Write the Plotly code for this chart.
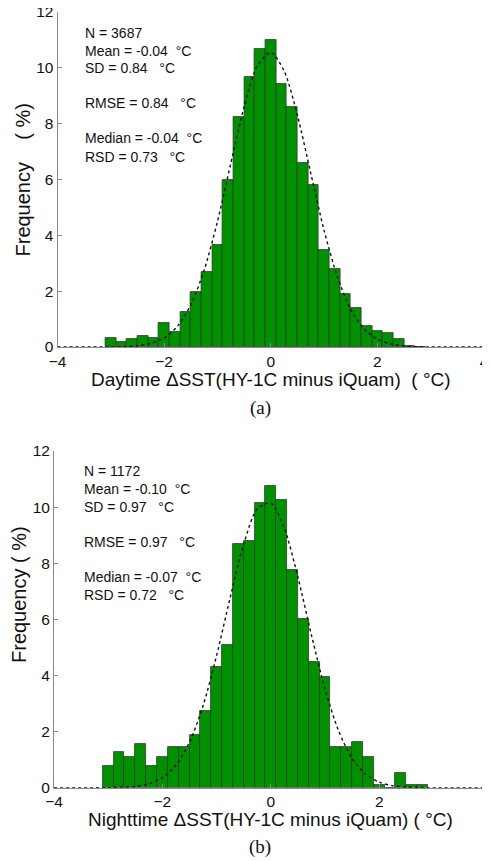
import plotly.graph_objects as go

# ---------------- data ----------------
bin_centers = [-3.0, -2.8, -2.6, -2.4, -2.2, -2.0, -1.8, -1.6, -1.4, -1.2,
               -1.0, -0.8, -0.6, -0.4, -0.2, 0.0, 0.2, 0.4, 0.6, 0.8,
               1.0, 1.2, 1.4, 1.6, 1.8, 2.0, 2.2, 2.4, 2.6, 2.8]

day_freq = [0.33, 0.18, 0.30, 0.38, 0.31, 0.86, 0.55, 1.25, 1.96, 2.68,
            3.66, 6.00, 8.23, 9.67, 10.69, 10.98, 9.42, 8.60, 6.58, 5.80,
            3.47, 2.80, 1.90, 1.41, 0.75, 0.58, 0.49, 0.30, 0.04, 0.0]

night_freq = [0.77, 1.29, 1.11, 1.56, 0.77, 1.11, 1.45, 1.45, 1.88, 2.75,
              4.30, 5.07, 8.69, 8.78, 10.13, 10.75, 10.25, 7.75, 6.03, 4.48,
              3.95, 1.46, 1.46, 1.63, 1.11, 0.085, 0.0, 0.51, 0.085, 0.085]

curve_x = [-4.0, -3.0, -2.75, -2.5, -2.25, -2.0, -1.75, -1.5, -1.25, -1.0,
           -0.75, -0.5, -0.25, 0.0, 0.25, 0.5, 0.75, 1.0, 1.25, 1.5,
           1.75, 2.0, 2.25, 2.5, 2.75, 3.0, 4.0]

day_fit = [0.0, 0.0, 0.01, 0.04, 0.13, 0.32, 0.74, 1.51, 2.75, 4.49,
           6.57, 8.60, 10.07, 10.55, 9.89, 8.30, 6.23, 4.18, 2.52, 1.35,
           0.65, 0.28, 0.11, 0.04, 0.01, 0.0, 0.0]

night_fit = [0.0, 0.0, 0.02, 0.05, 0.14, 0.35, 0.80, 1.62, 2.92, 4.71,
             6.77, 8.68, 9.93, 10.14, 9.24, 7.50, 5.44, 3.52, 2.03, 1.04,
             0.48, 0.20, 0.07, 0.02, 0.01, 0.0, 0.0]

x_ticks = [-4, -2, 0, 2, 4]
y_ticks = [0, 2, 4, 6, 8, 10, 12]

day_stats = ["N = 3687", "Mean = -0.04\u00a0\u00a0°C", "SD = 0.84\u00a0\u00a0\u00a0°C",
             "RMSE = 0.84\u00a0\u00a0\u00a0°C", "Median = -0.04\u00a0\u00a0°C",
             "RSD = 0.73\u00a0\u00a0\u00a0°C"]
night_stats = ["N = 1172", "Mean = -0.10\u00a0\u00a0°C", "SD = 0.97\u00a0\u00a0\u00a0°C",
               "RMSE = 0.97\u00a0\u00a0\u00a0°C", "Median = -0.07\u00a0\u00a0°C",
               "RSD = 0.72\u00a0\u00a0\u00a0°C"]

# ---------------- figure ----------------
W, H = 490, 861
OFF = 8  # page body margin: figure is drawn 8 px right/down in the window
FONT = "Arial, Liberation Sans, sans-serif"
SERIF = "Times New Roman, Liberation Serif, serif"
BAR_COLOR = "#009100"


def py(p):
    return 1 - (p - OFF) / H


def px(p):
    return (p - OFF) / W


fig = go.Figure()

for freq, xa, ya in [(day_freq, "x", "y"), (night_freq, "x2", "y2")]:
    fig.add_trace(go.Bar(x=bin_centers, y=freq, width=0.2, xaxis=xa, yaxis=ya,
                         marker=dict(color=BAR_COLOR, line=dict(color="#2b3b2b", width=0.8)),
                         showlegend=False, hoverinfo="x+y"))

for fit, xa, ya in [(day_fit, "x", "y"), (night_fit, "x2", "y2")]:
    fig.add_trace(go.Scatter(x=curve_x, y=fit, mode="lines", xaxis=xa, yaxis=ya,
                             line=dict(color="#111111", width=1.4, dash="dot", shape="spline", smoothing=0.8),
                             showlegend=False, hoverinfo="skip"))

axis_common = dict(showline=True, linecolor="#8a8a8a", linewidth=1, ticks="inside",
                   ticklen=4, tickcolor="#8a8a8a", showgrid=False, zeroline=False,
                   automargin=False, ticklabeloverflow="allow",
                   tickfont=dict(family=FONT, size=15.5, color="#111111"), mirror=False)

fig.update_layout(
    width=W, height=H, margin=dict(l=0, r=0, t=0, b=0, autoexpand=False),
    paper_bgcolor="white", plot_bgcolor="white", barmode="overlay", bargap=0,
    xaxis=dict(domain=[px(57.5), px(484)], range=[-4, 4], tickvals=x_ticks,
               anchor="y", **axis_common),
    yaxis=dict(domain=[py(347), py(12)], range=[0, 12], tickvals=y_ticks,
               anchor="x", **axis_common),
    xaxis2=dict(domain=[px(54), px(487.6)], range=[-4, 4], tickvals=x_ticks,
                anchor="y2", **axis_common),
    yaxis2=dict(domain=[py(787.7), py(451)], range=[0, 12], tickvals=y_ticks,
                anchor="x2", **axis_common),
)

ann = []
for lines, x0, ys in [(day_stats, 83, [33, 51, 68.5, 103.5, 138.5, 157]),
                      (night_stats, 81.7, [471, 489, 506.7, 542.3, 577.3, 595])]:
    for t, yy in zip(lines, ys):
        ann.append(dict(text=t, x=px(x0), y=py(yy), xref="paper", yref="paper",
                        xanchor="left", yanchor="middle", showarrow=False,
                        font=dict(family=FONT, size=14, color="#111111")))

ann += [
    dict(text="Daytime ΔSST(HY-1C minus iQuam)\u00a0\u00a0( °C)", x=px(270.5), y=py(379)),
    dict(text="Nighttime ΔSST(HY-1C minus iQuam) ( °C)", x=px(270), y=py(819)),
]
for a in ann[-2:]:
    a.update(xref="paper", yref="paper", xanchor="center", yanchor="middle",
             showarrow=False, font=dict(family=FONT, size=19, color="#111111"))

for t, xx, yy in [("Frequency\u00a0\u00a0\u00a0\u00a0( %)", 22, 180.5), ("Frequency ( %)", 19, 595)]:
    ann.append(dict(text=t, x=px(xx), y=py(yy), xref="paper", yref="paper",
                    xanchor="center", yanchor="middle", textangle=-90, showarrow=False,
                    font=dict(family=FONT, size=20, color="#111111")))

for t, xx, yy in [("(a)", 260.5, 408), ("(b)", 260, 847)]:
    ann.append(dict(text=t, x=px(xx), y=py(yy), xref="paper", yref="paper",
                    xanchor="center", yanchor="middle", showarrow=False,
                    font=dict(family=SERIF, size=19, color="#111111")))

fig.update_layout(annotations=ann)
fig.write_html("out.html")
